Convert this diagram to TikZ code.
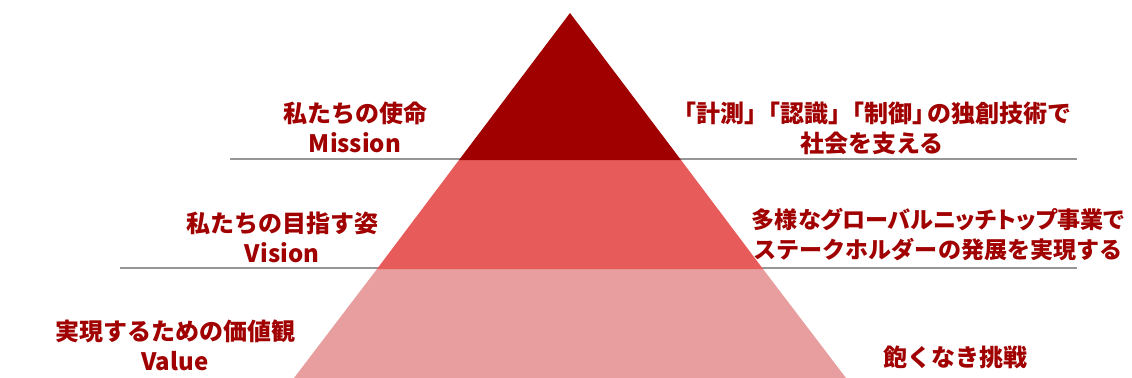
\documentclass[tikz,border=0pt]{standalone}
\usepackage{fontspec}
\setmainfont{Noto Sans CJK JP}
\usepackage{tikz}

\definecolor{rojo}{RGB}{160,0,0}
\definecolor{rojomedio}{RGB}{232,91,91}
\definecolor{rojoclaro}{RGB}{232,158,158}
\definecolor{linea}{RGB}{150,150,150}

\tikzset{
  texto/.style={text=rojo, font=\bfseries\fontsize{18}{22.5}\selectfont, align=center, inner sep=0pt},
  sep/.style={draw=linea, line width=1.5pt}
}

\begin{document}
\begin{tikzpicture}[x=0.75pt, y=-0.75pt]
      \useasboundingbox (0,0) rectangle (1132,378);
      %lineas
      \coordinate (l1a) at (230,159);
      \coordinate (l1b) at (1077,159);
      \coordinate (l2a) at (120,268);
      \coordinate (l2b) at (1077,268);
      \draw[sep] (l1a) -- (l1b);
      \draw[sep] (l2a) -- (l2b);
      %piramide
      \coordinate (apex) at (570,13);
      \coordinate (m1) at (459,160);
      \coordinate (m2) at (681,160);
      \coordinate (v1) at (377,269);
      \coordinate (v2) at (763,269);
      \coordinate (b1) at (294,378);
      \coordinate (b2) at (846,378);
      \fill[rojoclaro] (v1) -- (v2) -- (b2) -- (b1) -- cycle;
      \fill[rojomedio] (m1) -- (m2) -- (v2) -- (v1) -- cycle;
      \fill[rojo] (apex) -- (m2) -- (m1) -- cycle;
      %izquierda
      \node[texto] (mision) at (355,127) {私たちの使命\\Mission};
      \node[texto] (vision) at (282,237) {私たちの目指す姿\\Vision};
      \node[texto] (valor) at (175,345) {実現するための価値観\\Value};
      %derecha
      \node[texto] (mision2) at (872,128) {「計測」\kern-0.5em「認識」\kern-0.5em「制御」\kern-0.4em の独創技術で\\社会を支える};
      \node[texto, font=\bfseries\fontsize{17.3}{22.5}\selectfont] (vision2) at (938,235)
        {{\addfontfeatures{RawFeature=+palt}多様なグローバルニッチトップ事業で}\\ステークホルダーの発展を実現する};
      \node[texto] (valor2) at (955,357) {飽くなき挑戦};
  \end{tikzpicture}
\end{document}
